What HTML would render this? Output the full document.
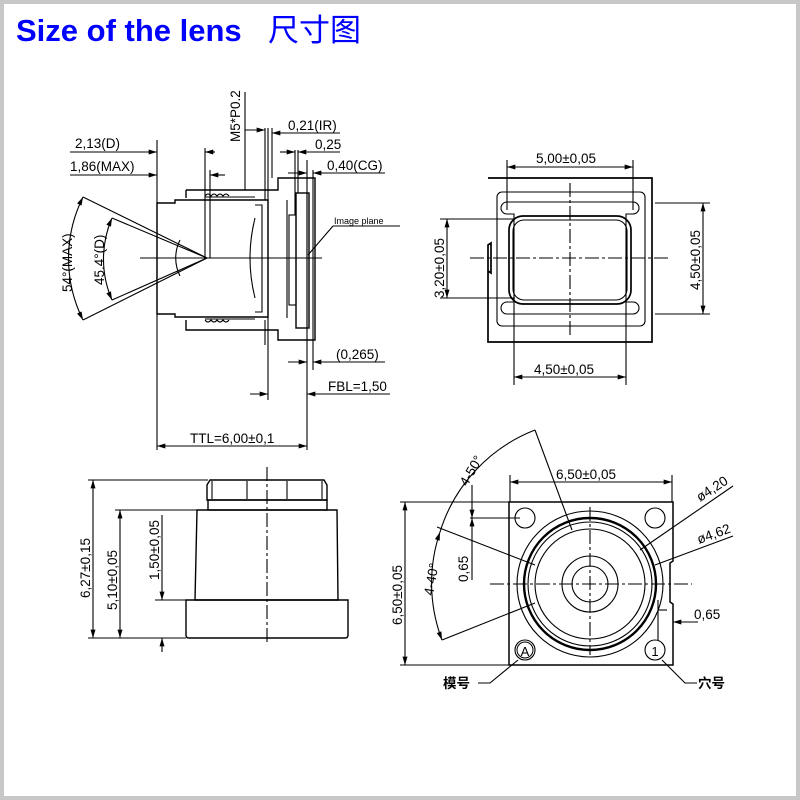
<!DOCTYPE html>
<html><head><meta charset="utf-8"><style>
html,body{margin:0;padding:0;background:#fff}
svg{display:block}
text{font-family:"Liberation Sans","Noto Sans CJK SC",sans-serif;fill:#000}
</style></head><body>
<svg width="800" height="800" viewBox="0 0 800 800" xmlns="http://www.w3.org/2000/svg">
<defs>
<marker id="a" viewBox="0 0 10 6" refX="10" refY="3" markerWidth="9" markerHeight="5" orient="auto-start-reverse" markerUnits="userSpaceOnUse"><path d="M0,0L10,3L0,6z" fill="#000"/></marker>
</defs>
<rect x="0" y="0" width="800" height="800" fill="#fff"/>
<rect x="2" y="2" width="796" height="796" fill="none" stroke="#c8c8c8" stroke-width="4"/>
<text x="16" y="41" font-size="31" font-weight="bold" style="fill:#0000ff">Size of the lens</text>
<text x="268" y="41" font-size="31" style="fill:#0000ff;font-family:'Noto Sans CJK SC',sans-serif">尺寸图</text>

<g stroke="#000" fill="none" stroke-width="1.1">
<!-- ===== side view ===== -->
<line x1="140" y1="258" x2="322" y2="258"/>
<path d="M157,203 L175,203 L175,200 L268,200 L268,317 L175,317 L175,314 L157,314 Z" stroke-width="1.4"/>
<path d="M255,205 L262,205 L262,312 L255,312"/>
<path d="M255,218 Q245,258 255,298"/>
<path d="M186,190 L186,198 M186,190 L278,190 L278,178 L315,178 L315,340 L278,340 L278,330 L186,330 L186,320" stroke-width="1.4"/>
<line x1="287" y1="200" x2="287" y2="318"/>
<path d="M205,197 L255,197 M205,319 L255,319"/>
<path d="M205,196 q3,-4 6,0 q3,-4 6,0 q3,-4 6,0 q3,-4 6,0"/>
<path d="M205,320 q3,4 6,0 q3,4 6,0 q3,4 6,0 q3,4 6,0"/>
<rect x="289" y="215" width="7" height="90"/>
<rect x="296" y="193" width="13" height="135" stroke-width="1.4"/>
<line x1="307" y1="193" x2="307" y2="328"/>
<path d="M83,197 L207,258 L83,320"/>
<path d="M112,218 L207,258 L112,300"/>
<path d="M83,197 A138,138 0 0 0 83,320" marker-start="url(#a)" marker-end="url(#a)"/>
<path d="M112,218 A103,103 0 0 0 112,300" marker-start="url(#a)" marker-end="url(#a)"/>
<path d="M180,240 A40,40 0 0 0 180,276"/>
<line x1="157" y1="140" x2="157" y2="450"/>
<line x1="205" y1="148" x2="205" y2="258"/>
<line x1="210" y1="170" x2="210" y2="258"/>
<line x1="265" y1="128" x2="265" y2="200"/>
<line x1="268" y1="128" x2="268" y2="400"/>
<line x1="272" y1="128" x2="272" y2="178"/>
<line x1="295" y1="150" x2="295" y2="215"/>
<line x1="298" y1="150" x2="298" y2="193"/>
<line x1="307" y1="160" x2="307" y2="450"/>
<line x1="313" y1="170" x2="313" y2="370"/>
<line x1="245" y1="92" x2="245" y2="190"/>
<line x1="265" y1="320" x2="265" y2="345"/>
<line x1="70" y1="152" x2="157" y2="152" marker-end="url(#a)"/>
<line x1="70" y1="175" x2="157" y2="175" marker-end="url(#a)"/>
<line x1="215" y1="152" x2="205" y2="152" marker-end="url(#a)"/>
<line x1="225" y1="175" x2="210" y2="175" marker-end="url(#a)"/>
<line x1="245" y1="130" x2="265" y2="130" marker-end="url(#a)"/>
<line x1="340" y1="133" x2="272" y2="133" marker-end="url(#a)"/>
<line x1="280" y1="152" x2="295" y2="152" marker-end="url(#a)"/>
<line x1="340" y1="152" x2="298" y2="152" marker-end="url(#a)"/>
<line x1="385" y1="173" x2="313" y2="173" marker-end="url(#a)"/>
<line x1="288" y1="173" x2="307" y2="173" marker-end="url(#a)"/>
<line x1="400" y1="226" x2="333" y2="226"/>
<line x1="333" y1="226" x2="308" y2="255"/>
<line x1="288" y1="362" x2="307" y2="362" marker-end="url(#a)"/>
<line x1="385" y1="362" x2="313" y2="362" marker-end="url(#a)"/>
<line x1="250" y1="394" x2="268" y2="394" marker-end="url(#a)"/>
<line x1="390" y1="394" x2="307" y2="394" marker-end="url(#a)"/>
<line x1="157" y1="446" x2="307" y2="446" marker-start="url(#a)" marker-end="url(#a)"/>
</g>
<g font-size="13.5">
<text x="75" y="148">2,13(D)</text>
<text x="70" y="171">1,86(MAX)</text>
<text x="288" y="130">0,21(IR)</text>
<text x="315" y="149">0,25</text>
<text x="327" y="170">0,40(CG)</text>
<text x="334" y="224" font-size="9">Image plane</text>
<text x="336" y="359">(0,265)</text>
<text x="328" y="391">FBL=1,50</text>
<text x="190" y="443">TTL=6,00±0,1</text>
<text transform="translate(240,142) rotate(-90)">M5*P0.2</text>
<text transform="translate(72,292) rotate(-90)">54°(MAX)</text>
<text transform="translate(104,285) rotate(-90)">45.4°(D)</text>
</g>

<g stroke="#000" fill="none" stroke-width="1.1">
<path d="M488,178 L652,178 L652,342 L488,342 L488,245 L491,243 L491,273 L488,271" stroke-width="1.7"/>
<rect x="497" y="192" width="148" height="134" rx="5"/>
<path d="M507,202 L633,202 A6,6 0 0 1 633,214 L626,214 L626,302 L633,302 A6,6 0 0 1 633,314 L507,314 A6,6 0 0 1 507,302 L514,302 L514,214 L507,214 A6,6 0 0 1 507,202 Z"/>
<rect x="509" y="216" width="122" height="88" rx="14" stroke-width="1.7"/>
<rect x="513" y="220" width="114" height="80" rx="11"/>
<line x1="470" y1="258" x2="670" y2="258" stroke-dasharray="14,3,3,3"/>
<line x1="570" y1="183" x2="570" y2="335" stroke-dasharray="14,3,3,3"/>
<line x1="507" y1="160" x2="507" y2="210"/>
<line x1="633" y1="160" x2="633" y2="210"/>
<line x1="507" y1="167" x2="633" y2="167" marker-start="url(#a)" marker-end="url(#a)"/>
<line x1="440" y1="219" x2="515" y2="219"/>
<line x1="440" y1="298" x2="515" y2="298"/>
<line x1="447" y1="219" x2="447" y2="298" marker-start="url(#a)" marker-end="url(#a)"/>
<line x1="655" y1="203" x2="710" y2="203"/>
<line x1="655" y1="314" x2="710" y2="314"/>
<line x1="703" y1="203" x2="703" y2="314" marker-start="url(#a)" marker-end="url(#a)"/>
<line x1="514" y1="300" x2="514" y2="385"/>
<line x1="626" y1="300" x2="626" y2="385"/>
<line x1="514" y1="377" x2="626" y2="377" marker-start="url(#a)" marker-end="url(#a)"/>
</g>
<g font-size="13.5">
<text x="536" y="163">5,00±0,05</text>
<text x="534" y="374">4,50±0,05</text>
<text transform="translate(444,298) rotate(-90)">3,20±0,05</text>
<text transform="translate(700,290) rotate(-90)">4,50±0,05</text>
</g>

<g stroke="#000" fill="none" stroke-width="1.1">
<path d="M210,480 L324,480 L327,485 L327,500 L207,500 L207,485 Z" stroke-width="1.4"/>
<line x1="212" y1="481" x2="212" y2="499"/>
<line x1="322" y1="481" x2="322" y2="499"/>
<line x1="247" y1="481" x2="247" y2="499"/>
<line x1="287" y1="481" x2="287" y2="499"/>
<rect x="208" y="500" width="119" height="10" stroke-width="1.4"/>
<path d="M197,510 L337,510 L338,600 L195,600 Z" stroke-width="1.4"/>
<path d="M186,600 L348,600 L348,635 Q348,638 345,638 L189,638 Q186,638 186,635 Z" stroke-width="1.4"/>
<line x1="267" y1="467" x2="267" y2="642" stroke-dasharray="14,3,3,3"/>
<line x1="88" y1="480" x2="208" y2="480"/>
<line x1="88" y1="638" x2="186" y2="638"/>
<line x1="115" y1="510" x2="197" y2="510"/>
<line x1="155" y1="600" x2="186" y2="600"/>
<line x1="93" y1="480" x2="93" y2="638" marker-start="url(#a)" marker-end="url(#a)"/>
<line x1="120" y1="510" x2="120" y2="638" marker-start="url(#a)" marker-end="url(#a)"/>
<line x1="162" y1="515" x2="162" y2="600" marker-end="url(#a)"/>
<line x1="162" y1="652" x2="162" y2="638" marker-end="url(#a)"/>
</g>
<g font-size="13.5">
<text transform="translate(90,598) rotate(-90)">6,27±0,15</text>
<text transform="translate(117,610) rotate(-90)">5,10±0,05</text>
<text transform="translate(159,580) rotate(-90)">1,50±0,05</text>
</g>

<g stroke="#000" fill="none" stroke-width="1.1">
<path d="M509,502 L673,502 L673,561 L670,563 L670,602 L673,604 L673,665 L509,665 Z" stroke-width="1.5"/>
<circle cx="525" cy="518" r="10"/><circle cx="655" cy="518" r="10"/>
<circle cx="525" cy="650" r="10"/><circle cx="655" cy="650" r="10"/>
<circle cx="590" cy="584" r="73"/>
<circle cx="590" cy="584" r="66" stroke-width="2.4"/>
<circle cx="590" cy="584" r="62"/>
<circle cx="590" cy="584" r="55"/>
<circle cx="590" cy="584" r="28"/>
<circle cx="590" cy="584" r="18"/>
<line x1="490" y1="584" x2="692" y2="584" stroke-dasharray="14,3,3,3"/>
<line x1="590" y1="507" x2="590" y2="655" stroke-dasharray="14,3,3,3"/>
<line x1="510" y1="475" x2="510" y2="502"/>
<line x1="672" y1="475" x2="672" y2="502"/>
<line x1="510" y1="482" x2="672" y2="482" marker-start="url(#a)" marker-end="url(#a)"/>
<line x1="400" y1="502" x2="509" y2="502"/>
<line x1="400" y1="665" x2="509" y2="665"/>
<line x1="405" y1="502" x2="405" y2="665" marker-start="url(#a)" marker-end="url(#a)"/>
<line x1="470" y1="518" x2="520" y2="518"/>
<line x1="472" y1="485" x2="472" y2="518" marker-end="url(#a)"/>
<line x1="472" y1="580" x2="472" y2="518" marker-end="url(#a)"/>
<line x1="535" y1="430" x2="572" y2="530"/>
<line x1="437" y1="527" x2="535" y2="565"/>
<line x1="442" y1="640" x2="535" y2="603"/>
<path d="M535,430 A160,160 0 0 0 440,532"/>
<path d="M440,532 A160,160 0 0 0 442,640" marker-start="url(#a)" marker-end="url(#a)"/>
<line x1="733" y1="486" x2="640" y2="550"/>
<line x1="733" y1="536" x2="655" y2="565"/>
<line x1="667" y1="610" x2="658" y2="610"/>
<line x1="698" y1="622" x2="673" y2="622" marker-end="url(#a)"/>
<line x1="658" y1="600" x2="658" y2="640"/>
<path d="M518,660 L490,683 L478,683"/>
<path d="M662,660 L685,683 L697,683"/>
</g>
<text x="525" y="656" font-size="13" text-anchor="middle">A</text>
<text x="655" y="656" font-size="13" text-anchor="middle">1</text>
<circle cx="525" cy="650" r="8" fill="none" stroke="#000"/>
<g font-size="13.5">
<text x="556" y="479">6,50±0,05</text>
<text transform="translate(402,625) rotate(-90)">6,50±0,05</text>
<text transform="translate(468,582) rotate(-90)">0,65</text>
<text x="694" y="619">0,65</text>
<text transform="translate(467,487) rotate(-60)">4-50°</text>
<text transform="translate(433,596) rotate(-80)">4-40°</text>
<text transform="translate(700,502) rotate(-33)">ø4,20</text>
<text transform="translate(699,544) rotate(-20)">ø4,62</text>
<text x="443" y="688" font-weight="bold" style="font-family:'Noto Sans CJK SC',sans-serif">模号</text>
<text x="698" y="688" font-weight="bold" style="font-family:'Noto Sans CJK SC',sans-serif">穴号</text>
</g>
</svg>
</body></html>
